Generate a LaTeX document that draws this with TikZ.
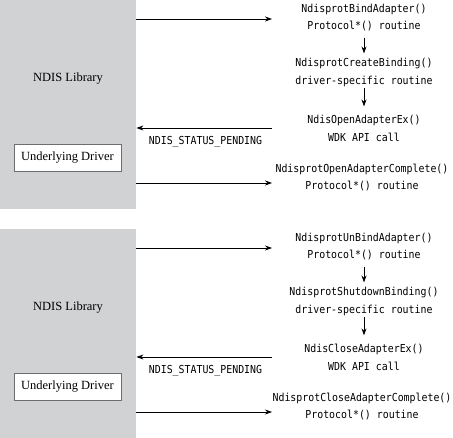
\documentclass[tikz,border=0pt]{standalone}
\usepackage{fontspec}
\setmainfont{Liberation Serif}
\newfontfamily\monofnt[FakeStretch=0.9]{DejaVu Sans Mono}
\usetikzlibrary{arrows.meta}
\definecolor{panelgray}{RGB}{209,210,212}
\definecolor{boxedge}{RGB}{110,110,112}
\tikzset{
  panel/.style={fill=panelgray, draw=none, inner sep=0pt, anchor=north west, minimum width=136pt, minimum height=209pt},
  libtext/.style={font=\fontsize{12.5}{14}\selectfont, inner sep=0pt, anchor=base},
  drvbox/.style={draw=boxedge, fill=white, line width=0.8pt, minimum width=107pt, minimum height=27pt, inner sep=0pt, font=\fontsize{12.5}{14}\selectfont},
  routine/.style={font=\monofnt\fontsize{11}{17.5}\selectfont, align=center, inner sep=0pt, anchor=base},
  status/.style={font=\monofnt\fontsize{11}{12}\selectfont, inner sep=0pt, anchor=base},
  conn/.style={line width=0.8pt, -{Stealth[length=7pt,width=5pt]}},
}
\begin{document}
\begin{tikzpicture}[x=1pt,y=-1pt]
\useasboundingbox (0,0) rectangle (453,438);
\foreach \s/\one/\two/\thr/\fou in {0/NdisprotBindAdapter()/NdisprotCreateBinding()/NdisOpenAdapterEx()/NdisprotOpenAdapterComplete(),
                                    229/NdisprotUnBindAdapter()/NdisprotShutdownBinding()/NdisCloseAdapterEx()/NdisprotCloseAdapterComplete()}{
\begin{scope}[yshift=-\s pt]
  \node[panel] (lib\s) at (0,0) {};
  \node[libtext] (libname\s) at (68,82) {NDIS Library};
  \node[drvbox] (drv\s) at (67.5,157.5) {Underlying Driver};
  \node[routine] (a\s) at (364,30) {\one\\Protocol*() routine};
  \node[routine] (b\s) at (364,84.5) {\two\\driver-specific routine};
  \node[routine] (c\s) at (364,141.5) {\thr\\WDK API call};
  \node[routine] (d\s) at (362,190) {\fou\\Protocol*() routine};
  \node[status] (st\s) at (205.5,145) {NDIS\_STATUS\_PENDING};
  \coordinate (e1\s) at (272,19);
  \coordinate (e2\s) at (272,128);
  \coordinate (e3\s) at (272,183);
  \draw[conn] (lib\s.east |- e1\s) -- (e1\s);
  \draw[conn] (e2\s) -- (lib\s.east |- e2\s);
  \draw[conn] (lib\s.east |- e3\s) -- (e3\s);
  \draw[conn, shorten <=6pt, shorten >=5pt] (a\s) -- (b\s);
  \draw[conn, shorten <=1.5pt, shorten >=9pt] (b\s) -- (c\s);
\end{scope}
}
\end{tikzpicture}
\end{document}
